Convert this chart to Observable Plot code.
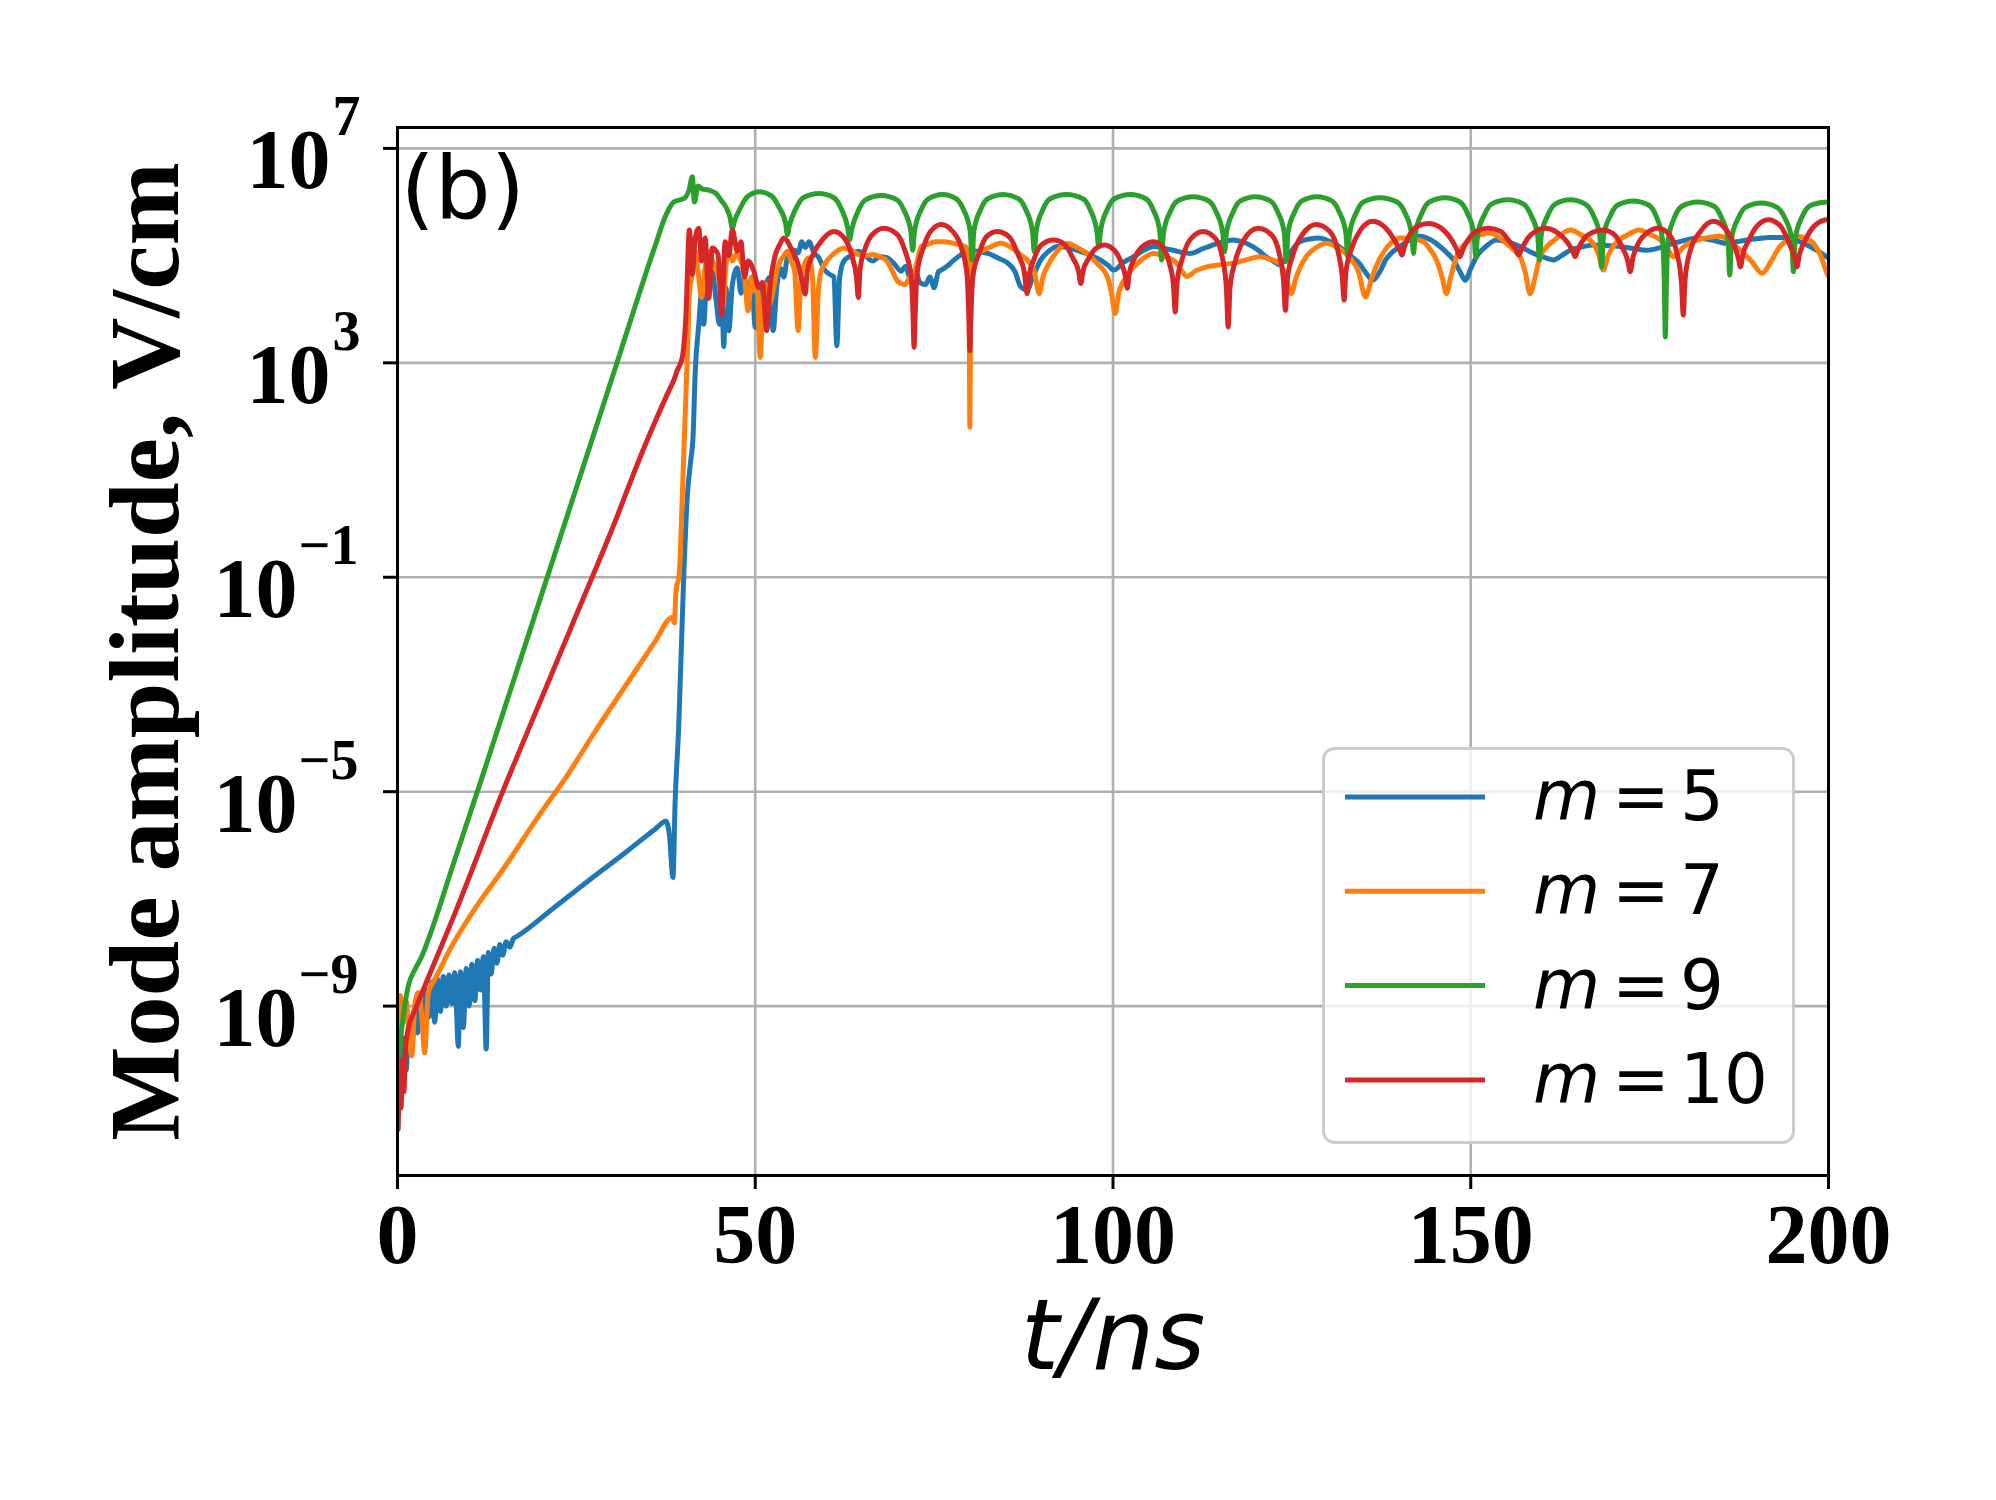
<!DOCTYPE html>
<html>
<head>
<meta charset="utf-8">
<script src="https://cdn.jsdelivr.net/npm/d3@7"></script>
<script src="https://cdn.jsdelivr.net/npm/@observablehq/plot@0.6"></script>
<style>
  html, body { margin: 0; padding: 0; background: white; }
  #wrap { position: relative; width: 1996px; height: 1500px; overflow: hidden; }
  #legend { position: absolute; left: 1322px; top: 747px; }
</style>
</head>
<body>
<div id="wrap"></div>
<script>
// ---- data (t in ns, log10 of mode amplitude in V/cm) ----
const seriesNames = ["m = 5", "m = 7", "m = 9", "m = 10"];
const seriesColors = ["#1f77b4", "#ff7f0e", "#2ca02c", "#d62728"];
const legendDigits = ["5", "7", "9", "10"];
const xTicks = [0, 50, 100, 150, 200];
const yTickExps = [7, 3, -1, -5, -9];

const m5 = [[0.3,-10.8],[0.5,-10.0],[0.8,-9.6],[1.2,-10.2],[1.6,-9.3],[2.0,-9.8],[2.4,-9.0],[2.8,-9.5],[3.2,-8.9],[3.6,-9.4],[4.0,-8.7],[4.4,-9.2],[4.8,-8.55],[5.2,-9.3],[5.6,-8.5],[6.0,-9.1],[6.4,-8.45],[6.8,-9.0],[7.2,-8.42],[7.6,-8.95],[8.0,-8.38],[8.5,-9.75],[8.8,-8.36],[9.2,-9.4],[9.6,-8.3],[10.0,-9.0],[10.4,-8.22],[10.8,-8.9],[11.2,-8.15],[11.6,-8.7],[12.0,-8.08],[12.4,-9.8],[12.7,-8.0],[13.1,-8.4],[13.5,-7.92],[13.9,-8.2],[14.3,-7.85],[14.7,-8.05],[15.2,-7.8],[15.7,-7.9],[16.2,-7.74],[16.7,-7.7],[22.0,-7.15],[27.0,-6.63],[32.0,-6.12],[36.0,-5.7],[37.5,-5.55],[38.0,-5.8],[38.5,-6.6],[38.8,-5.2],[39.3,-3.8],[40.0,-1.0],[40.5,0.5],[41.0,1.2],[41.3,1.6],[41.6,2.8],[42.1,3.7],[42.5,4.3],[42.8,3.72],[43.2,4.5],[43.5,4.34],[44.0,4.7],[44.5,4.2],[45.0,3.72],[45.3,4.5],[45.6,3.3],[45.9,4.4],[46.3,3.6],[46.8,4.46],[47.5,4.77],[48.0,4.3],[48.5,4.59],[49.0,4.1],[49.5,4.6],[50.0,3.66],[50.4,4.3],[50.7,4.46],[51.2,3.8],[51.6,4.5],[52.0,4.59],[52.5,3.6],[53.0,4.4],[53.5,4.77],[54.0,4.6],[54.5,4.95],[55.0,4.9],[55.5,5.1],[56.0,5.05],[56.5,5.26],[57.0,5.15],[57.5,5.26],[58.2,5.05],[58.9,4.96],[59.6,4.75],[60.4,4.65],[61.0,4.6],[61.4,3.32],[61.8,4.6],[62.4,4.9],[63.4,5.0],[64.4,5.08],[65.4,5.0],[66.4,4.9],[67.4,4.98],[68.4,4.96],[69.4,4.85],[70.4,4.71],[71.0,4.8],[71.6,4.6],[72.4,4.71],[73.0,4.5],[73.8,4.46],[74.4,4.6],[75.0,4.4],[75.6,4.7],[76.0,4.73],[76.8,4.8],[77.8,4.92],[78.8,5.02],[79.7,5.1],[81.0,5.08],[82.5,5.04],[84.0,4.95],[85.3,4.86],[86.3,4.7],[87.1,4.42],[88.0,4.36],[88.8,4.6],[89.9,4.92],[91.0,5.08],[92.2,5.17],[93.6,5.15],[95.0,5.1],[96.6,5.02],[98.2,4.92],[99.3,4.82],[100.1,4.73],[101.5,4.88],[102.9,4.98],[104.3,5.1],[105.7,5.17],[107.0,5.14],[108.4,5.1],[109.6,5.06],[110.8,5.04],[112.4,5.12],[114.0,5.2],[115.4,5.26],[116.8,5.29],[118.0,5.26],[119.1,5.2],[120.3,5.1],[121.4,4.98],[122.4,4.9],[123.3,4.83],[124.7,5.05],[126.1,5.26],[127.5,5.31],[128.8,5.33],[130.2,5.27],[131.6,5.17],[133.0,5.02],[134.4,4.86],[135.5,4.65],[136.3,4.54],[137.3,4.7],[138.1,4.92],[139.0,5.06],[140.1,5.17],[141.5,5.3],[142.9,5.36],[144.3,5.3],[145.7,5.17],[146.7,5.05],[147.6,4.92],[148.5,4.7],[149.2,4.54],[150.0,4.76],[150.8,4.98],[152.2,5.18],[153.6,5.29],[155.2,5.25],[156.9,5.17],[158.5,5.06],[160.0,4.98],[161.6,4.92],[162.7,5.0],[163.9,5.1],[165.5,5.16],[167.1,5.2],[169.0,5.19],[170.9,5.17],[172.8,5.13],[174.6,5.1],[176.5,5.15],[178.3,5.23],[180.0,5.29],[181.6,5.33],[183.7,5.29],[185.8,5.23],[187.2,5.26],[188.6,5.29],[190.2,5.32],[191.8,5.34],[193.2,5.34],[194.6,5.33],[196.0,5.26],[197.4,5.17],[198.6,5.08],[200,4.95]];

const m7 = [[0.2,-9.6],[0.4,-8.8],[0.8,-9.3],[1.2,-8.9],[1.6,-9.5],[2.0,-9.93],[2.4,-9.0],[2.9,-8.75],[3.4,-9.2],[3.8,-9.87],[4.3,-8.75],[5.0,-8.55],[5.7,-8.38],[7.1,-8.0],[10,-7.35],[15,-6.4],[20,-5.4],[23.3,-4.78],[28,-3.8],[33,-2.8],[36,-2.2],[38.4,-1.75],[38.7,-1.85],[38.9,-1.3],[39.4,-0.9],[39.8,0.5],[40.2,2.0],[40.6,3.5],[40.8,4.3],[41.1,4.59],[41.6,5.08],[42.0,4.7],[42.5,4.22],[43.0,4.8],[43.5,5.08],[44.0,4.9],[44.5,4.77],[45.0,4.5],[45.5,4.03],[45.9,4.8],[46.3,5.08],[46.8,4.9],[47.3,5.02],[48.0,4.9],[48.5,4.6],[49.0,3.97],[49.5,4.6],[49.8,4.34],[50.2,4.5],[50.7,3.1],[51.1,4.3],[51.5,4.46],[52.0,4.1],[52.5,4.34],[53.0,4.7],[53.5,4.9],[54.0,5.0],[54.5,5.08],[55.0,4.9],[55.5,4.71],[56.0,3.6],[56.4,4.6],[56.7,4.77],[57.5,4.96],[58.0,4.6],[58.4,3.1],[58.8,4.3],[59.2,4.71],[60.4,4.96],[61.4,5.08],[62.4,5.14],[63.4,5.1],[64.4,5.02],[65.4,5.0],[66.4,5.02],[67.4,4.98],[68.4,4.9],[69.2,4.7],[69.9,4.52],[70.4,4.48],[70.9,4.46],[71.6,4.6],[72.4,4.77],[73.2,5.17],[74.3,5.22],[75.1,5.26],[76.5,5.26],[78.0,5.22],[79.3,5.17],[79.7,5.1],[79.9,4.0],[80.0,1.8],[80.1,4.0],[80.3,4.9],[81.1,5.04],[82.7,5.15],[84.3,5.23],[85.8,5.15],[87.0,5.02],[88.0,4.92],[89.0,4.7],[89.7,4.29],[90.2,4.6],[90.8,4.79],[92.0,5.05],[93.6,5.23],[95.0,5.15],[96.4,5.04],[97.8,4.85],[99.2,4.61],[99.8,4.3],[100.3,3.92],[100.8,4.3],[101.9,4.61],[103.8,4.9],[105.7,5.04],[107.3,4.98],[108.9,4.86],[109.6,4.72],[110.3,4.61],[111.6,4.72],[113.1,4.79],[115.0,4.83],[116.8,4.86],[118.6,4.92],[120.5,4.98],[122.0,4.93],[123.3,4.86],[124.2,4.6],[124.9,4.29],[125.6,4.6],[127.0,4.98],[128.4,5.15],[129.8,5.23],[131.4,5.15],[133.0,4.98],[134.3,4.7],[135.3,4.23],[136.2,4.6],[137.2,4.92],[138.6,5.2],[140.1,5.33],[141.8,5.31],[143.4,5.26],[144.4,5.1],[145.2,4.92],[146.0,4.6],[146.6,4.29],[147.2,4.6],[148.0,4.98],[149.4,5.24],[150.8,5.36],[152.7,5.42],[154.8,5.25],[156.2,5.08],[156.9,4.98],[157.6,4.7],[158.3,4.29],[159.0,4.6],[159.7,4.98],[161.8,5.3],[163.9,5.48],[165.5,5.38],[167.1,5.23],[167.8,5.05],[168.5,4.73],[169.2,5.0],[169.9,5.17],[171.8,5.38],[173.6,5.48],[175.0,5.4],[176.5,5.29],[177.4,5.15],[178.3,4.98],[179.9,5.18],[181.6,5.29],[183.3,5.34],[184.9,5.36],[186.3,5.25],[187.7,5.1],[189.2,4.9],[190.7,4.67],[192.0,4.9],[193.2,5.17],[194.4,5.3],[195.6,5.36],[196.8,5.32],[197.9,5.23],[198.9,5.0],[199.8,4.67],[200,4.62]];

const m9 = [[0.15,-10.3],[0.4,-9.7],[0.8,-9.2],[1.5,-8.63],[2.5,-8.3],[3.4,-8.07],[4.3,-7.76],[8.0,-6.27],[11.7,-4.78],[20,-1.38],[30,2.72],[36,5.18],[37.5,5.75],[38.6,6.0],[40.1,6.07],[40.8,6.25],[41.2,6.47],[41.5,6.0],[42.0,6.3],[42.5,6.25],[43.5,6.22],[44.5,6.16],[45.3,6.02],[46.0,5.88],[46.5,5.7],[46.8,5.5],
[47.05,5.62],[48.0,5.91],[49.0,6.11],[50.6,6.19],[52.3,6.11],[53.3,5.91],[54.25,5.6],[54.5,5.39],
[54.75,5.55],[55.7,5.88],[56.7,6.08],[58.9,6.16],[61.0,6.08],[62.0,5.88],[62.95,5.5],[63.2,5.30],
[63.45,5.47],[64.4,5.84],[65.4,6.04],[67.6,6.12],[69.8,6.04],[70.8,5.84],[71.75,5.45],[72.0,5.1],
[72.25,5.45],[73.2,5.86],[74.2,6.06],[76.2,6.14],[78.1,6.06],[79.1,5.86],[80.05,5.45],[80.3,4.92],
[80.55,5.45],[81.5,5.86],[82.5,6.06],[84.7,6.14],[86.8,6.06],[87.8,5.86],[88.75,5.45],[89.0,5.07],
[89.25,5.45],[90.2,5.86],[91.2,6.06],[93.5,6.14],[95.8,6.06],[96.8,5.86],[97.75,5.45],[98.0,5.17],
[98.25,5.45],[99.2,5.86],[100.2,6.06],[102.4,6.14],[104.6,6.06],[105.6,5.86],[106.55,5.45],[106.8,4.92],
[107.05,5.42],[108.0,5.82],[109.0,6.02],[111.2,6.1],[113.4,6.02],[114.4,5.82],[115.35,5.42],[115.6,5.07],
[115.85,5.42],[116.8,5.82],[117.8,6.02],[119.9,6.1],[122.0,6.02],[123.0,5.82],[123.95,5.42],[124.2,4.89],
[124.45,5.42],[125.4,5.82],[126.4,6.02],[128.5,6.1],[130.6,6.02],[131.6,5.82],[132.55,5.42],[132.8,4.98],
[133.05,5.4],[134.0,5.8],[135.0,6.0],[137.3,6.08],[139.7,6.0],[140.8,5.8],[141.75,5.4],[142.0,5.04],
[142.25,5.4],[143.2,5.8],[144.2,6.0],[146.4,6.08],[148.5,6.0],[149.5,5.8],[150.45,5.4],[150.7,4.98],
[150.95,5.38],[151.9,5.76],[152.9,5.96],[155.2,6.04],[157.4,5.96],[158.4,5.76],[159.35,5.38],[159.6,4.92],
[159.85,5.38],[160.8,5.76],[161.8,5.96],[163.9,6.04],[166.0,5.96],[167.1,5.76],[168.05,5.36],[168.3,4.79],
[168.55,5.36],[169.5,5.74],[170.5,5.94],[172.7,6.02],[174.9,5.94],[175.9,5.74],[176.8,5.3],[177.05,4.5],[177.2,3.48],[177.35,4.5],
[177.6,5.3],[178.5,5.72],[179.5,5.92],[181.7,6.0],[184.0,5.92],[185.0,5.72],[185.95,5.32],[186.2,4.64],
[186.45,5.32],[187.4,5.7],[188.4,5.9],[190.6,5.98],[192.8,5.9],[193.9,5.7],[194.85,5.32],[195.1,4.7],
[195.35,5.32],[196.3,5.72],[197.3,5.92],[199.0,5.99],[200,6.0]];

const m10 = [[0.1,-11.3],[0.3,-10.2],[0.5,-10.9],[0.7,-10.0],[0.9,-10.6],[1.1,-9.8],[1.5,-9.43],[2.5,-9.06],[3.8,-8.63],[8.0,-7.28],[14.7,-5.0],[20,-3.3],[25,-1.7],[30,-0.1],[34.1,1.3],[36.0,1.9],[38.0,2.5],[38.6,2.67],[39.1,2.86],[39.8,3.1],[40.3,3.85],[40.8,5.48],[41.2,4.65],[41.6,5.33],[42.1,5.51],[42.5,4.9],[43.0,5.33],[43.5,4.2],[44.0,5.14],[44.8,5.02],[45.3,3.9],[45.8,5.26],[46.3,5.0],[46.8,5.48],[47.5,5.08],[48.0,5.26],[48.5,4.6],[49.0,4.9],[49.8,4.71],[50.5,4.4],[51.0,4.5],[51.6,3.6],[52.0,4.34],[52.7,4.96],[53.4,5.2],[54.0,5.33],[55.0,5.14],[56.0,4.83],[56.6,4.5],[57.0,4.28],
[57.25,4.7],[58.0,5.0],[59.4,5.3],[61.0,5.45],[62.6,5.3],[63.6,4.95],[64.15,4.6],[64.4,4.22],
[64.65,4.75],[65.4,5.15],[66.4,5.4],[68.0,5.51],[69.8,5.4],[70.9,5.1],[71.8,4.6],[72.05,3.9],[72.2,3.29],[72.35,3.9],
[72.6,4.65],[73.5,5.15],[74.5,5.45],[76.0,5.58],[77.6,5.45],[78.8,5.15],[79.6,4.65],[79.85,3.9],[80.0,3.23],[80.15,3.9],
[80.4,4.6],[81.3,5.05],[82.3,5.35],[83.8,5.45],[85.5,5.35],[86.8,5.0],[87.6,4.7],[88.0,4.29],
[88.3,4.65],[89.0,4.95],[90.0,5.2],[91.7,5.29],[93.3,5.2],[94.4,4.95],[95.2,4.7],[95.5,4.48],
[95.8,4.7],[96.6,4.95],[97.5,5.12],[98.8,5.2],[100.2,5.1],[101.2,4.85],[101.75,4.6],[102.0,4.39],
[102.25,4.65],[103.0,4.95],[104.2,5.18],[105.7,5.26],[107.0,5.15],[107.9,4.85],[108.45,4.45],[108.7,3.95],
[108.95,4.5],[109.7,4.95],[110.8,5.3],[112.6,5.45],[114.3,5.32],[115.3,4.95],[115.85,4.4],[116.1,3.67],
[116.35,4.4],[117.1,4.9],[118.3,5.3],[120.3,5.51],[122.2,5.38],[123.3,5.0],[123.85,4.5],[124.1,3.98],
[124.35,4.55],[125.1,5.0],[126.4,5.38],[128.4,5.58],[130.3,5.45],[131.5,5.05],[132.05,4.6],[132.3,4.17],
[132.55,4.7],[133.4,5.15],[134.6,5.48],[136.3,5.64],[138.2,5.5],[139.5,5.25],[140.1,5.1],[140.4,5.01],
[140.7,5.15],[141.5,5.4],[142.6,5.55],[144.1,5.6],[145.8,5.52],[147.3,5.3],[148.1,5.1],[148.5,4.98],
[148.9,5.12],[149.8,5.33],[150.9,5.46],[152.5,5.51],[154.2,5.45],[155.5,5.25],[156.3,5.12],[156.7,5.01],
[157.1,5.12],[158.0,5.33],[159.0,5.45],[160.4,5.51],[162.0,5.44],[163.5,5.25],[164.2,5.1],[164.6,4.98],
[165.0,5.12],[165.9,5.33],[167.0,5.43],[168.5,5.48],[170.0,5.4],[171.2,5.15],[171.95,4.9],[172.3,4.7],
[172.65,4.95],[173.5,5.25],[174.7,5.43],[176.2,5.51],[177.7,5.4],[178.8,5.05],[179.45,4.5],[179.7,3.89],
[179.95,4.55],[180.7,5.1],[182.1,5.45],[183.9,5.64],[185.6,5.5],[186.8,5.2],[187.4,4.95],[187.7,4.79],
[188.0,5.0],[188.9,5.3],[190.0,5.55],[191.6,5.67],[193.3,5.55],[194.6,5.2],[195.3,4.95],[195.6,4.79],
[195.9,5.0],[196.8,5.3],[198.0,5.55],[199.8,5.67],[200,5.67]];

const seriesData = [m5, m7, m9, m10];

// ---- table for the library ----
const rows = [];
seriesData.forEach((pts, i) => pts.forEach(([t, e]) => rows.push({t, v: Math.pow(10, e), m: seriesNames[i]})));
const yTickVals = yTickExps.map(e => Math.pow(10, e));
const posExps = yTickExps.filter(e => e >= 0);
const negExps = yTickExps.filter(e => e < 0);

const serif = "'Liberation Serif', 'Times New Roman', serif";
const sans = "'DejaVu Sans', sans-serif";

const chart = Plot.plot({
  width: 1996,
  height: 1500,
  marginLeft: 397,
  marginRight: 168,
  marginTop: 127,
  marginBottom: 325,
  style: {background: "white", color: "black", fontFamily: serif, overflow: "visible"},
  x: {domain: [0, 200]},
  y: {type: "log", domain: [Math.pow(10, -12.16), Math.pow(10, 7.39)]},
  color: {domain: seriesNames, range: seriesColors},
  marks: [
    Plot.gridX(xTicks, {stroke: "#b0b0b0", strokeOpacity: 1, strokeWidth: 2.6}),
    Plot.gridY(yTickVals, {stroke: "#b0b0b0", strokeOpacity: 1, strokeWidth: 2.6}),
    Plot.line(rows, {x: "t", y: "v", z: "m", stroke: "m", strokeWidth: 5, curve: "monotone-x", clip: true}),
    Plot.frame({stroke: "black", strokeWidth: 3}),
    Plot.axisX(xTicks, {tickSize: 14, tickPadding: 14, strokeWidth: 3, fontSize: 84, fontWeight: "bold", fontFamily: serif, label: null}),
    Plot.axisY(yTickVals, {tickSize: 14, strokeWidth: 3, tickFormat: () => "", label: null}),
    // y tick labels: "10" with raised exponent
    Plot.text(posExps, {y: e => Math.pow(10, e), text: () => "10", frameAnchor: "left", textAnchor: "end", dx: -67, dy: 13, fontSize: 84, fontWeight: "bold", fontFamily: serif}),
    Plot.text(posExps, {y: e => Math.pow(10, e), text: e => String(e), frameAnchor: "left", textAnchor: "start", dx: -65, dy: -31, fontSize: 56, fontWeight: "bold", fontFamily: serif}),
    Plot.text(negExps, {y: e => Math.pow(10, e), text: () => "10", frameAnchor: "left", textAnchor: "end", dx: -100, dy: 13, fontSize: 84, fontWeight: "bold", fontFamily: serif}),
    Plot.text(negExps, {y: e => Math.pow(10, e), text: e => "\u2212" + Math.abs(e), frameAnchor: "left", textAnchor: "start", dx: -99, dy: -31, fontSize: 56, fontWeight: "bold", fontFamily: serif}),
    // axis titles and panel tag
    Plot.text(["Mode amplitude, V/cm"], {text: d => d, frameAnchor: "left", rotate: -90, textAnchor: "middle", lineAnchor: "middle", dx: -252, dy: 0, fontSize: 100, fontWeight: "bold", fontFamily: serif}),
    Plot.text(["t/ns"], {text: d => d, frameAnchor: "bottom", textAnchor: "middle", lineAnchor: "middle", dy: 162, fontSize: 98, fontStyle: "italic", fontFamily: sans}),
    Plot.text(["(b)"], {text: d => d, frameAnchor: "top-left", textAnchor: "start", lineAnchor: "middle", dx: 3, dy: 62, fontSize: 88, fontFamily: sans})
  ]
});

const wrap = document.getElementById("wrap");
wrap.appendChild(chart);

// ---- legend (overlay, drawn from the series arrays) ----
const lg = d3.create("svg").attr("id", "legend").attr("width", 473).attr("height", 397);
lg.append("rect").attr("x", 1.5).attr("y", 1.5).attr("width", 470).attr("height", 394).attr("rx", 11)
  .attr("fill", "white").attr("fill-opacity", 0.8).attr("stroke", "#cccccc").attr("stroke-width", 3);
seriesNames.forEach((name, i) => {
  const cy = 50 + i * 94.3;
  lg.append("line").attr("x1", 23).attr("x2", 163).attr("y1", cy).attr("y2", cy)
    .attr("stroke", seriesColors[i]).attr("stroke-width", 5);
  const base = cy + 23;
  lg.append("text").attr("x", 211).attr("y", base).attr("font-family", sans).attr("font-size", 69)
    .attr("font-style", "italic").text("m");
  lg.append("text").attr("x", 290).attr("y", base).attr("font-family", sans).attr("font-size", 69).text("=");
  lg.append("text").attr("x", 358).attr("y", base).attr("font-family", sans).attr("font-size", 69).text(legendDigits[i]);
});
wrap.appendChild(lg.node());
</script>
</body>
</html>
